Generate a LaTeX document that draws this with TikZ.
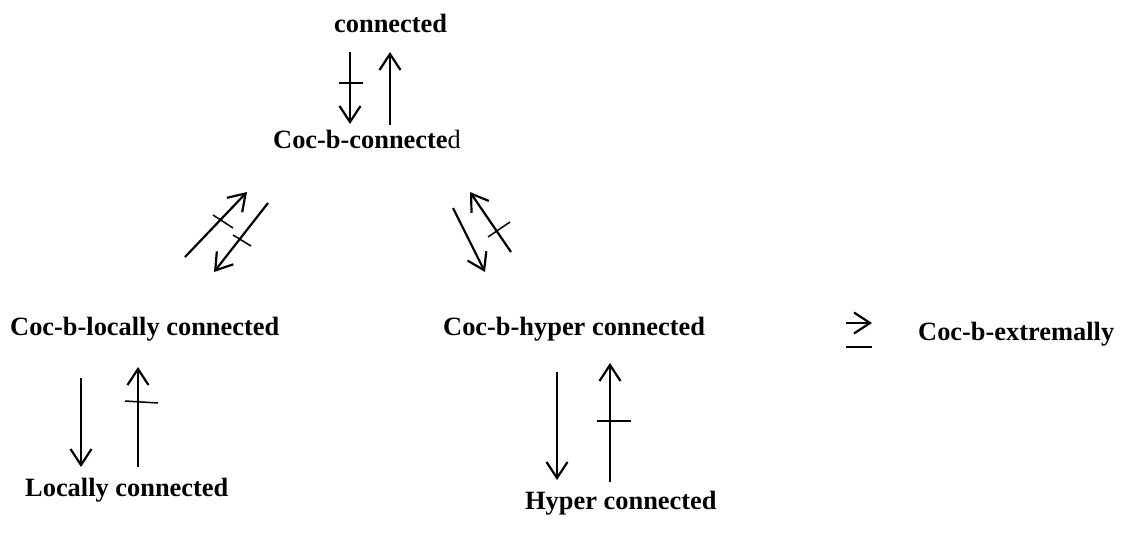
\documentclass[tikz,border=0pt]{standalone}
\usepackage{fontspec}
\setmainfont{Liberation Serif}
\usetikzlibrary{arrows.meta}
\begin{document}
\begin{tikzpicture}[x=1pt,y=-1pt,
  lbl/.style={inner sep=0pt,anchor=base west,font=\fontsize{26.4}{30}\selectfont\bfseries},
  arr/.style={line width=2.2pt,-{Straight Barb[length=16pt,width=21pt,line width=2.2pt]}},
  ln/.style={line width=2.2pt},
  tk/.style={line width=1.5pt}]
\useasboundingbox[fill=white] (0,0) rectangle (1122,533);
% labels
\node[lbl] (con) at (334,32) {connected};
\node[lbl] (cbc) at (273,148) {Coc-b-connecte\textmd{d}};
\node[lbl] (cbl) at (10,335) {Coc-b-locally connected};
\node[lbl] (cbh) at (443,335) {Coc-b-hyper connected};
\node[lbl] (cbe) at (918,340) {Coc-b-extremally};
\node[lbl] (loc) at (25,496) {Locally connected};
\node[lbl] (hyp) at (525,509) {Hyper connected};
% top pair
\coordinate (a1s) at (350,52); \coordinate (a1e) at (350,124);
\coordinate (a2s) at (390,125); \coordinate (a2e) at (390,52);
\draw[arr] (a1s) -- (a1e);
\draw[arr] (a2s) -- (a2e);
\coordinate (t1a) at (339,83); \coordinate (t1b) at (363,83);
\draw[tk] (t1a) -- (t1b);
% left diagonal pair
\coordinate (b1s) at (185,257); \coordinate (b1e) at (247,192);
\coordinate (b2s) at (268,203); \coordinate (b2e) at (214,272);
\draw[arr] (b1s) -- (b1e);
\draw[arr] (b2s) -- (b2e);
\coordinate (t2a) at (213,215); \coordinate (t2b) at (233,228);
\draw[tk] (t2a) -- (t2b);
\coordinate (t3a) at (233,235); \coordinate (t3b) at (251,246);
\draw[tk] (t3a) -- (t3b);
% right diagonal pair
\coordinate (c1s) at (453,208); \coordinate (c1e) at (485,272);
\coordinate (c2s) at (511,252); \coordinate (c2e) at (470,192);
\draw[arr] (c1s) -- (c1e);
\draw[arr] (c2s) -- (c2e);
\coordinate (t4a) at (488,237); \coordinate (t4b) at (510,222);
\draw[tk] (t4a) -- (t4b);
% implication to extremally
\coordinate (d1s) at (846,323); \coordinate (d1e) at (872,323);
\coordinate (d2s) at (846,347); \coordinate (d2e) at (872,347);
\draw[arr] (d1s) -- (d1e);
\draw[ln] (d2s) -- (d2e);
% bottom left pair
\coordinate (e1s) at (81,378); \coordinate (e1e) at (81,467);
\coordinate (e2s) at (138,467); \coordinate (e2e) at (138,367);
\draw[arr] (e1s) -- (e1e);
\draw[arr] (e2s) -- (e2e);
\coordinate (t5a) at (125,401); \coordinate (t5b) at (158,403);
\draw[tk] (t5a) -- (t5b);
% bottom right pair
\coordinate (f1s) at (557,372); \coordinate (f1e) at (557,480);
\coordinate (f2s) at (610,482); \coordinate (f2e) at (610,363);
\draw[arr] (f1s) -- (f1e);
\draw[arr] (f2s) -- (f2e);
\coordinate (t6a) at (597,421); \coordinate (t6b) at (631,421);
\draw[tk] (t6a) -- (t6b);
\end{tikzpicture}
\end{document}
